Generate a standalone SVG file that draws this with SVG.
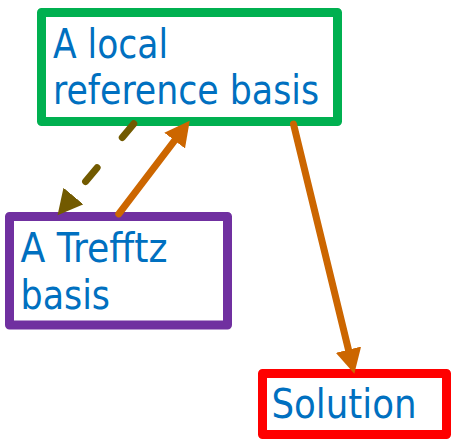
<svg xmlns="http://www.w3.org/2000/svg" width="458" height="444" viewBox="0 0 458 444">
<style>
.box{fill:#ffffff;stroke-width:9;stroke-linejoin:round}
.lbl{font-family:"DejaVu Sans Condensed","DejaVu Sans",Verdana,sans-serif;font-size:40px;fill:#0070C0}
.conn{fill:none;stroke-width:7;stroke-linecap:round}
</style>
<defs>
<marker id="headO" markerUnits="userSpaceOnUse" markerWidth="26" markerHeight="26" viewBox="0 0 24 24" refX="1" refY="12" orient="auto">
<path d="M0,0 L23,12 L0,24 Z" fill="#CC6600"/>
</marker>
<marker id="headB" markerUnits="userSpaceOnUse" markerWidth="26" markerHeight="26" viewBox="0 0 24 24" refX="1" refY="12" orient="auto">
<path d="M0,0 L23,12 L0,24 Z" fill="#725A00"/>
</marker>
</defs>
<g id="node-local">
<rect class="box" x="41.5" y="12.5" width="296" height="109" stroke="#00B050"/>
<text class="lbl" x="53" y="58.3" textLength="115" lengthAdjust="spacingAndGlyphs">A local</text>
<text class="lbl" x="53" y="103.8" textLength="266" lengthAdjust="spacingAndGlyphs">reference basis</text>
</g>
<g id="node-trefftz">
<rect class="box" x="9.5" y="216.5" width="218" height="108.5" stroke="#7030A0"/>
<text class="lbl" x="20.5" y="262.3" textLength="147" lengthAdjust="spacingAndGlyphs">A Trefftz</text>
<text class="lbl" x="20.5" y="309" textLength="89.5" lengthAdjust="spacingAndGlyphs">basis</text>
</g>
<g id="node-solution">
<rect class="box" x="262.5" y="373.5" width="184" height="61" stroke="#FF0000"/>
<text class="lbl" x="271.5" y="418.3" textLength="145" lengthAdjust="spacingAndGlyphs">Solution</text>
</g>
<g id="connectors">
<line class="conn" x1="133.8" y1="123.7" x2="72.8" y2="196.9" stroke="#725A00" stroke-dasharray="18 39.3" marker-end="url(#headB)"/>
<line class="conn" x1="118.8" y1="213.9" x2="175.3" y2="139.7" stroke="#CC6600" marker-end="url(#headO)"/>
<line class="conn" x1="293.5" y1="124.1" x2="348.7" y2="350.7" stroke="#CC6600" marker-end="url(#headO)"/>
</g>
</svg>
